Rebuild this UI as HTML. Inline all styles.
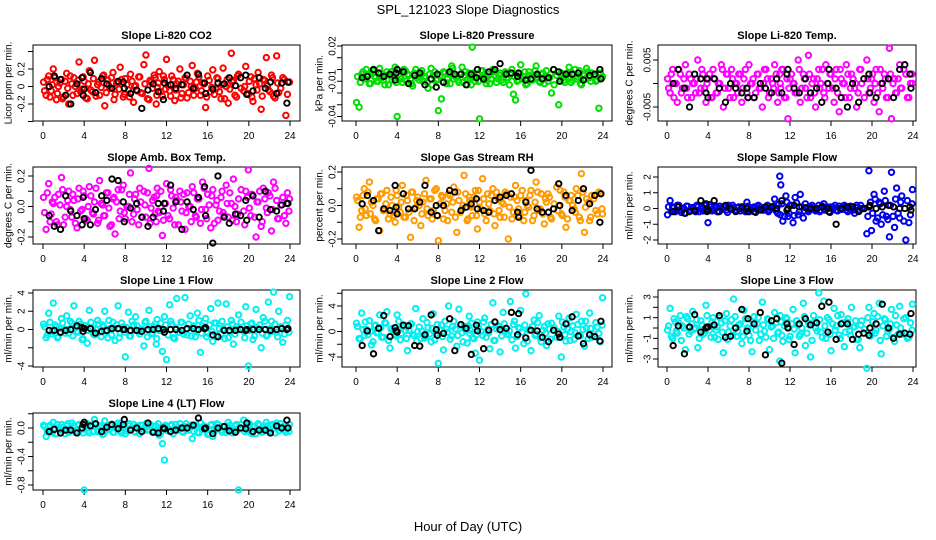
<!DOCTYPE html>
<html><head><meta charset="utf-8"><style>
html,body{margin:0;padding:0;background:#fff}
svg{display:block;font-family:"Liberation Sans",sans-serif}
</style></head><body>
<svg id="chart" width="936" height="540" viewBox="0 0 936 540">
<text x="468" y="14" text-anchor="middle" font-size="13">SPL_121023  Slope Diagnostics</text>
<text x="468" y="531" text-anchor="middle" font-size="13">Hour of Day (UTC)</text>
</svg>
<script>
const hours=[.05,.3,.55,.8,1.0,1.3,1.5,1.8,2.0,2.3,2.5,2.8,3.0,3.3,3.5,3.8,4.0,4.3,4.5,4.8,5.0,5.3,5.5,5.8,6.0,6.3,6.5,6.8,7.0,7.3,7.5,7.8,8.0,8.3,8.5,8.8,9.0,9.3,9.5,9.8,10.0,10.3,10.5,10.8,11.0,11.1,11.3,11.6,11.8,12.0,12.3,12.5,12.8,13.0,13.3,13.5,13.8,14.0,14.3,14.5,14.8,15.0,15.3,15.5,15.8,16.0,16.3,16.5,16.8,17.0,17.3,17.5,17.8,18.0,18.3,18.5,18.8,19.0,19.5,19.7,19.95,20.2,20.4,20.7,20.9,21.2,21.4,21.7,21.9,22.2,22.4,22.7,22.9,23.3,23.6,23.95];
const hours2=[.15,.42,.68,.9,1.15,1.4,1.65,1.9,2.15,2.4,2.65,2.9,3.15,3.4,3.65,3.9,4.15,4.4,4.65,4.9,5.15,5.4,5.65,5.9,6.15,6.4,6.65,6.9,7.15,7.4,7.65,7.9,8.15,8.4,8.65,8.9,9.15,9.4,9.65,9.9,10.15,10.4,10.65,10.9,11.05,11.2,11.45,11.7,11.9,12.15,12.4,12.65,12.9,13.15,13.4,13.65,13.9,14.15,14.4,14.65,14.9,15.15,15.4,15.65,15.9,16.15,16.4,16.65,16.9,17.15,17.4,17.65,17.9,18.15,18.4,18.65,18.9,19.25,19.6,19.85,20.05,20.3,20.55,20.8,21.05,21.3,21.55,21.8,22.05,22.3,22.55,22.8,23.1,23.45,23.75,23.9];
const blackHours=[0.6,1.1,1.7,2.2,2.7,3.3,3.8,3.9,4.0,4.6,5.1,5.7,6.2,6.7,7.3,7.8,7.9,8.5,9.1,9.6,10.2,10.7,11.2,11.7,11.8,12.4,12.9,13.5,14.0,14.6,15.1,15.7,15.8,16.5,17.0,17.6,18.1,18.7,19.2,19.7,19.8,20.4,21.0,21.6,22.1,22.7,23.2,23.7,23.8];
const xTicks=[0,4,8,12,16,20,24];

const co2=[.05,-.1,.12,-.05,.2,-.15,.0,.08,-.12,.15,-.2,.03,.1,-.08,.28,-.03,.06,-.14,.18,-.06,.3,.02,-.1,.12,-.22,.07,-.02,.16,-.09,.04,.22,-.12,.09,-.04,.14,-.18,.01,.11,-.07,.25,.36,-.15,.05,.13,-.2,-.01,.17,-.11,.08,.31,-.05,.12,-.16,.03,.2,-.08,.1,-.13,.06,.24,-.02,.15,-.1,.04,-.24,.12,-.06,.19,-.03,.09,-.14,.21,.0,-.19,.38,.07,-.12,.14,-.05,.23,-.09,.11,-.17,.02,.16,-.26,.08,.33,-.04,.13,-.11,.35,-.07,.1,-.33,.05];
const co2B=[-.05,.08,-.12,.02,.1,-.08,.04,-.14,.06,-.02,.12,-.1,.0,.07,-.06,.11,-.13,.03,-.04,.09,-.11,.05,-.01,.13,-.07,.01,.1,-.15,.04,-.03,.08,-.09,.02,-.12,.06,.0,-.05,.11,-.08,.03,-.14,.07,-.02,.1,-.1,.04,-.06,.12,-.03,.01,-.11,.08,-.04,.06,-.13,.02,.09,-.07,.0,-.1,.05,.11,-.05,.03,-.12,.07,-.01,-.09,.1,-.06,.02,-.14,.08,-.03,.05,-.1,.12,-.02,.0,-.08,.06,-.12,.09,-.04,.03,-.11,.07,.01,-.06,.1,-.13,.04,-.02,.08,-.09,.05];
const co2Black=[.0,.12,.08,-.1,-.2,.03,.1,-.1,-.03,.16,-.07,.09,.03,-.02,.06,.05,-.02,-.08,-.04,-.25,-.04,.03,-.06,-.15,.04,.02,-.02,.02,.13,-.02,.14,.04,-.08,-.03,.04,.03,.1,.01,.1,.13,-.09,-.05,.1,-.02,.05,-.08,.04,-.19,.05];
const pressure=[-.028,-.032,-.004,-.008,.0,-.012,-.003,-.006,-.01,.001,-.007,-.013,-.002,-.005,-.009,.002,-.04,-.006,-.011,-.001,-.004,-.008,-.014,.0,-.006,-.003,-.01,-.007,-.016,.001,-.005,-.009,-.035,-.025,-.002,-.012,-.004,.003,-.008,-.006,-.011,.002,-.005,-.013,-.003,-.007,.019,-.01,-.004,-.042,-.001,-.009,-.006,-.012,.0,-.005,-.008,-.003,-.011,-.002,-.007,-.004,-.021,-.026,-.009,.004,-.006,-.013,-.002,-.008,-.005,.003,-.01,-.004,-.012,-.001,-.007,-.02,-.005,-.03,-.003,-.009,-.006,.002,-.011,-.004,-.008,-.001,-.013,-.005,.001,-.007,-.003,-.01,-.033,-.006];
const pressureB=[-.006,-.011,-.002,-.008,-.004,-.012,-.001,-.007,-.01,-.003,-.009,-.005,-.013,-.002,-.006,-.011,-.004,-.008,.0,-.01,-.005,-.012,-.003,-.007,-.009,-.001,-.006,-.011,-.004,-.013,-.002,-.008,-.005,-.01,-.003,-.007,-.012,.001,-.006,-.009,-.004,-.011,-.002,-.008,-.005,-.013,-.003,-.007,-.01,-.001,-.006,-.012,-.004,-.008,-.002,-.011,-.005,-.009,-.003,-.007,-.013,.0,-.006,-.01,-.004,-.008,-.002,-.012,-.005,-.009,-.001,-.007,-.011,-.003,-.006,-.01,-.004,-.013,-.002,-.008,-.005,-.011,-.003,-.007,-.009,.0,-.006,-.012,-.004,-.008,-.002,-.01,-.005,-.009,-.003,-.007];
const pressureBlack=[-.007,-.006,.0,-.003,-.006,-.004,-.009,-.003,.0,-.002,-.012,-.005,-.003,-.013,-.008,-.015,-.004,-.011,-.002,-.004,-.004,-.013,-.004,-.007,.0,-.008,-.002,.0,.005,-.004,-.003,-.006,-.003,-.009,-.008,-.004,-.008,-.007,.0,-.002,-.01,-.004,-.004,-.003,-.009,-.005,-.004,.0,-.008];
const liTemp=[.001,-.002,.003,.0,-.004,.002,-.001,.004,-.003,.001,.0,-.002,.005,-.001,.002,-.004,.001,-.003,.003,-.002,.0,.004,-.005,.002,-.001,.003,-.003,.0,.002,-.004,.001,-.002,.004,.0,-.003,.002,-.001,-.005,.003,.001,-.002,.0,.004,-.004,.002,-.001,.003,-.003,-.0075,.001,.0,-.002,.005,-.004,.002,-.001,.006,-.003,.001,-.005,.003,.0,-.002,.004,-.001,.002,-.004,.003,-.006,.001,.0,.004,-.003,.002,-.001,-.005,.003,.0,.005,-.002,.001,-.004,.003,-.006,.0,.002,-.003,.0075,-.0075,.001,-.002,.004,-.001,.002,-.003,.0];
const liTempB=[-.001,.002,-.003,.0,.003,-.002,.001,-.001,.002,-.003,.0,.001,-.002,.003,-.001,.0,.002,-.003,.001,-.002,.0,.003,-.001,.002,-.003,.001,.0,-.002,.002,-.001,.003,-.003,.0,.001,-.002,.002,-.001,.0,.003,-.003,.001,-.001,.002,-.002,.0,.003,-.003,.001,-.001,.002,.0,-.002,.003,-.001,.001,-.003,.002,.0,-.002,.001,-.001,.003,-.003,.0,.002,-.001,.001,-.002,.003,.0,-.003,.002,-.001,.001,.0,-.002,.003,-.003,.001,-.001,.002,.0,-.002,.003,-.001,.001,-.003,.002,.0,-.002,.001,-.001,.003,-.003,.0,.002];
const liTempBlack=[.0,.003,-.001,-.005,.002,.001,-.002,.001,-.003,.001,-.001,-.004,.0,-.001,-.002,-.001,-.003,-.003,.0,-.001,-.002,.001,-.002,.002,.003,-.001,-.002,.001,-.002,-.001,-.004,.0,.003,-.001,-.003,-.005,.0,-.004,.001,.002,-.002,-.003,.0,.001,-.003,.003,.004,.002,-.001];
const ambTemp=[.06,-.15,.15,-.05,.02,-.1,.08,.19,-.12,.0,.1,-.07,.04,-.14,.12,-.02,.07,-.09,.13,-.04,.03,-.11,.17,.01,-.06,.09,-.13,.05,-.18,.11,-.03,.14,-.08,.0,.22,-.05,.08,-.12,.03,.1,-.07,.25,-.01,.06,-.1,.12,-.04,-.19,.02,.15,-.08,.07,-.12,.04,.1,-.03,-.15,.09,.0,.13,-.06,.05,-.11,.16,-.02,.08,-.14,.11,.01,-.09,.06,-.04,.14,-.07,.02,.18,-.1,.05,-.03,.1,.24,-.06,.07,-.2,.03,-.13,.12,-.01,.09,-.16,.16,.04,-.08,.06,-.11,.05];
const ambTempB=[-.04,.09,-.1,.03,.06,-.12,.01,.11,-.07,.04,-.02,.08,-.11,.05,-.03,.1,-.08,.0,.07,-.05,.12,-.09,.02,-.06,.09,-.01,-.12,.06,.03,-.08,.11,-.04,.0,.08,-.1,.05,-.02,.12,-.07,.01,.09,-.11,.04,-.05,.07,-.03,.1,-.09,.02,-.06,.11,-.01,.06,-.12,.03,.08,-.04,.0,-.1,.09,-.07,.05,-.02,.12,-.08,.01,.07,-.11,.04,-.03,.1,-.06,.02,.09,-.09,.0,-.05,.11,-.12,.06,-.01,.08,-.07,.03,.1,-.1,.05,-.04,.07,-.02,.12,-.08,.01,-.06,.09,-.03];
const ambTempBlack=[-.06,-.13,-.15,.07,-.03,-.06,-.12,.06,-.08,-.12,-.02,.07,.04,.18,.17,.03,-.1,-.01,.02,-.07,-.13,-.07,.02,-.03,.02,.14,.03,-.15,.03,-.02,.06,.13,-.06,-.24,.2,-.07,-.11,-.05,-.06,.04,-.09,.07,-.07,.1,-.02,-.03,.01,.02,.02];
const rh=[.05,-.13,-.03,.1,-.06,.14,.02,-.08,.04,-.15,.07,-.02,.09,-.05,.0,-.1,.06,-.04,.12,-.07,.03,-.19,.08,-.01,.05,-.12,.02,.15,-.06,.04,-.03,.1,-.21,.06,-.08,.01,.07,-.04,.11,-.16,.03,-.02,.18,-.09,.05,.0,-.06,.09,-.14,.02,.16,-.05,.07,-.03,.1,-.12,.04,-.07,.01,.08,-.2,.05,-.04,.12,-.02,.06,-.09,.03,-.01,.09,-.06,.14,-.03,.07,-.11,.02,.05,-.08,.11,.0,-.05,.08,-.13,.03,.06,-.02,.1,-.07,.19,-.16,.04,-.09,.06,-.03,.08,-.05];
const rhB=[.03,-.07,.06,-.02,.08,-.05,.0,-.09,.04,.07,-.03,.01,-.08,.05,-.06,.09,-.01,.02,-.07,.06,-.04,.08,-.09,.03,.0,-.05,.07,-.02,.04,-.08,.09,-.06,.01,.05,-.03,-.09,.06,.02,-.07,.08,-.04,.0,.07,-.08,.03,-.01,.05,-.06,.09,-.02,.04,-.09,.01,.06,-.05,.08,-.03,.02,-.07,.07,-.01,-.08,.05,.03,-.06,.09,-.04,.0,.06,-.09,.02,.08,-.02,-.05,.04,.07,-.07,.01,-.03,.09,-.06,.05,-.08,.03,.0,-.04,.06,-.09,.08,-.01,.02,-.07,.04,-.05,.07,-.02];
const rhBlack=[.01,.06,.03,-.15,-.02,-.03,.12,-.01,-.05,.07,-.02,-.02,.02,.12,-.04,.0,-.06,.0,.09,.08,-.03,-.01,.01,.04,-.02,-.03,-.04,.03,.05,.06,.07,-.04,-.07,.02,.21,-.02,-.04,-.04,-.02,.13,.0,.06,-.03,.03,.1,.01,.06,-.1,.07];
const sampleFlow=[-.4,.5,.1,-.2,.2,-.1,.0,-.3,.15,-.1,.05,-.2,.1,.0,-.15,.2,-.9,.1,-.05,.15,-.2,.0,.1,-.1,.2,-.05,.05,-.15,.1,.0,-.1,.4,-.2,.05,.1,-.05,.15,-.1,.0,.2,-.1,.05,.6,-.3,2.05,1.5,-.8,.8,-.5,.2,-.9,.7,-.4,.9,-.6,.3,-.2,.1,.0,-.15,.2,-.1,.3,.0,-.2,.1,.05,-.1,.15,-.05,.2,-.1,.0,.1,-.3,.2,-.1,.0,-1.6,2.4,-1.4,.9,-.8,.4,-1.0,1.1,-.5,-1.8,2.3,-1.2,1.3,-.6,.8,-2.0,-.9,1.2];
const sampleFlowB=[.1,-.2,.05,-.1,.2,-.25,.0,.15,-.15,.05,-.05,.2,-.2,.1,-.1,.0,.25,-.15,.05,-.2,.15,-.05,.1,-.25,.0,.2,-.1,.05,-.15,.1,-.2,.15,-.05,.0,-.25,.2,.05,-.1,.1,-.2,.0,.15,-.15,.25,-.4,.3,-.5,.4,-.3,.2,-.45,.35,-.2,.1,-.15,.05,-.1,.2,-.05,.0,-.2,.15,-.1,.1,-.25,.05,.2,-.15,.0,-.05,.1,-.2,.15,-.1,.05,-.15,.2,.0,-.5,.4,-.3,.6,-.6,.3,-.4,.5,-.7,.2,-.5,.6,-.3,.4,-.8,.5,-.4,.3];
const sampleFlowBlack=[-.2,.1,-.3,-.2,-.15,.5,.3,-.2,-.1,.5,-.2,.2,.0,-.2,.1,.0,-.2,-.2,-.1,.1,.1,.0,.5,-.1,.0,.2,.1,.05,.0,.0,.1,.0,-.2,-1.0,.0,.1,.1,-.2,.0,.1,.2,.0,.1,.2,.1,.0,.0,.1,-.1];
const line1=[.6,-.9,1.8,-.5,2.9,.3,-.8,1.2,.0,1.5,-.4,.7,2.6,-.2,.9,-1.1,.4,-1.5,2.1,.2,-.6,1.0,-.3,.5,2.0,-.9,.1,.8,-1.2,2.6,-.4,.3,-3.0,1.9,-.7,.5,1.4,-.2,.0,-1.8,.9,2.1,-.5,.3,-1.6,1.1,-.1,-2.4,1.4,-3.3,2.7,.6,-1.0,3.4,-.3,.8,3.5,-.6,1.5,.2,-.8,1.8,-2.5,.4,1.2,-.4,2.3,-1.3,.7,2.9,-.5,.1,2.8,-.9,1.0,-1.6,.3,1.6,-.2,2.5,-4.0,.6,-1.1,2.2,.0,-2.0,1.3,-.7,3.0,.9,4.1,-.3,2.0,-1.4,.5,3.6];
const line1B=[.3,-.6,.8,-.2,.5,-.9,.1,.7,-.4,.0,.9,-.7,.2,-.3,.6,-1.0,.4,-.1,.8,-.5,.0,.6,-.8,.3,-.2,1.0,-.6,.1,.5,-.9,.7,-.3,.2,-.7,.9,-.1,.4,-.5,.0,.8,-.8,.3,-.4,.6,-1.0,.1,.7,-.2,.5,-.6,.9,-.9,.2,-.3,.8,-.5,.0,.6,-.7,.4,-.1,1.0,-.4,.2,-.8,.5,-.2,.7,-.6,.1,.9,-1.0,.3,-.3,.6,-.5,.0,.8,-.9,.4,-.1,.7,-.7,.2,.5,-.4,.9,-.6,.1,-.2,.6,-.8,.3,-.5,1.0,-.3];
const line1Black=[-.1,-.1,-.3,-.1,.0,.4,.2,-.2,.1,.1,-.4,-.2,-.1,.1,.1,.0,.0,-.1,-.1,-.2,.0,.0,.1,.0,-.3,.0,.0,-.1,.1,.1,.0,.1,.2,-.6,-.8,-.1,-.1,-.1,.0,-.1,.0,.0,.0,.0,-.1,.0,.1,.0,.1];
const line2=[1.3,-1.1,2.9,-.6,.3,1.7,-2.1,.9,-.2,2.6,-.9,1.4,3.1,-2.6,.5,-.4,2.6,-1.3,.7,.1,-3.0,1.2,-.5,3.6,.0,-1.1,2.0,-.8,.6,-1.6,2.8,-.3,-5.0,1.0,-2.9,.4,4.0,-.7,1.6,-2.3,3.5,-.2,.8,-1.8,2.4,.2,-1.0,-3.4,1.5,-4.5,-.6,2.1,.3,-2.7,4.5,-1.4,.9,-3.2,3.0,.0,-.5,4.7,1.1,-2.6,.6,3.3,-1.9,5.9,.2,-3.0,1.8,-.4,2.5,-1.6,.8,-2.2,.4,1.3,-.9,2.4,-4.0,.7,-1.5,2.1,.0,-1.2,2.7,-.6,1.6,-2.3,.5,2.9,-.9,1.4,-.3,5.3];
const line2B=[.8,-1.2,.3,1.5,-.5,.0,-1.6,1.0,-.2,.6,-.9,1.3,-1.4,.4,.1,-.7,1.6,-.3,.9,-1.1,.2,1.2,-.6,-1.5,.7,.0,-1.0,1.4,-.4,.5,-1.3,1.1,.3,-.8,1.6,-.1,-1.2,.8,.4,-.6,1.0,-1.6,.2,.9,-.3,1.3,-1.1,-.5,.6,.0,1.5,-.9,-.2,1.1,-1.4,.4,.7,-.7,1.2,-.4,.1,-1.3,1.6,-.8,.5,-.1,1.0,-1.5,.3,.8,-.6,1.4,-1.0,.2,-.3,1.2,-1.2,.6,.0,-.9,1.5,-.5,.4,-1.4,.9,-.2,1.1,-.7,.3,1.6,-1.1,.5,-.4,.7,-1.6,1.0];
const line2Black=[-2.2,.1,-3.5,.5,2.5,-.8,.6,.1,-.1,1.0,.9,-2.2,-2.3,-.5,2.6,.3,-.6,-.3,2.0,-3.0,1.1,.5,-3.6,1.0,.1,-2.7,.2,1.5,.3,.5,3.0,-.5,2.8,-1.0,.2,.1,-.9,-1.6,.2,-.4,-.9,1.2,2.3,-.7,-1.9,-.5,-.8,-1.5,1.6];
const line3=[-.2,1.9,-1.0,.6,-.5,1.2,.2,-2.1,.9,-.3,1.6,.0,-1.9,.7,-.6,2.2,.1,-.9,1.0,-.2,-1.1,.5,-2.4,1.4,-.4,.8,2.8,-.8,.3,-1.5,1.7,.0,-.7,-2.3,1.1,.4,-1.2,2.5,-.3,.9,-2.1,.2,1.5,-.5,-3.2,.6,-1.3,1.0,.1,-.8,1.8,-2.4,.3,-.6,2.4,-1.7,.5,-2.8,1.2,.0,3.4,-.4,2.6,-1.0,.8,-2.2,1.9,.2,-.7,1.3,-1.8,.6,-.3,2.0,.1,-1.1,-1.9,.7,-3.9,2.0,-.5,1.4,-.2,2.4,-2.5,.9,-.8,-.1,1.8,-1.3,.3,2.1,-.6,1.0,-.9,2.3];
const line3B=[.2,-.8,.9,-.3,.5,-1.2,.0,1.1,-.6,.4,-.1,.8,-1.0,.3,-.5,1.2,-.2,.6,-.9,.1,1.0,-.4,.7,-1.1,.2,-.7,1.1,-.3,.4,-.8,.9,.0,-1.2,.6,-.2,1.0,-.6,.3,-.9,.8,.1,-1.0,.5,-.4,1.2,-.7,.2,.9,-1.1,.4,-.1,.7,-.8,.0,1.1,-.5,.3,-1.2,.6,-.3,.8,-.9,.2,1.0,-.6,.4,-.2,1.2,-1.0,.5,-.4,.9,-.7,.1,.7,-1.1,.3,-.1,1.0,-.8,.6,-.5,1.1,-1.2,.2,.8,-.3,.4,-.9,1.2,-.6,.0,.9,-1.0,.5,-.2];
const line3Black=[-1.7,.2,-2.5,.1,1.3,-.4,.0,.1,.1,.3,1.2,-.9,-.8,.0,1.8,-.3,.9,.4,1.5,-2.6,.7,.9,-3.4,.4,.0,-1.6,.4,.9,.3,.5,2.1,-.4,2.5,-1.1,.4,.4,-1.1,-.6,-.5,-.7,.0,.4,2.3,.0,-1.0,-.6,-.5,-.6,1.4];
const line4=[.04,-.12,.02,-.05,.08,-.08,.0,.05,-.03,.03,-.06,.07,.01,-.04,.05,-.02,-.87,.06,-.07,.02,.12,-.05,.03,-.09,.1,-.02,.04,-.06,.01,.07,-.04,.02,-.08,.03,-.01,.05,-.06,.0,.04,-.03,.06,-.02,.01,-.05,.03,-.07,-.1,-.22,-.45,.02,-.04,.05,.0,-.03,.06,-.05,.02,-.01,.04,-.15,.03,-.06,.07,-.02,.01,-.09,.04,-.12,.0,.05,-.03,.02,-.06,.08,-.01,-.04,.05,-.87,.11,-.02,.04,-.07,.02,-.08,.06,-.03,.01,.08,-.05,.03,.0,.07,-.04,.02,-.06,.05];
const line4B=[.02,-.05,.04,-.07,.0,.05,-.03,.01,-.08,.06,-.02,.03,-.06,.04,-.01,-.07,.05,-.04,.02,-.05,.06,-.03,.0,-.08,.03,-.02,.05,-.06,.01,.04,-.07,.02,-.04,.06,-.01,-.05,.03,-.08,.04,.0,-.03,.05,-.06,.02,-.02,.06,-.07,.01,.04,-.04,.03,-.08,.05,-.01,.0,-.06,.06,-.03,.02,-.05,.04,-.07,.01,.03,-.02,-.08,.05,-.04,.06,.0,-.06,.02,-.01,.04,-.07,.03,-.03,.05,-.05,.01,.06,-.08,.02,-.02,.04,-.06,.0,.03,-.04,.05,-.07,.01,.06,-.03,.02,-.05];
const line4Black=[-.05,-.02,-.07,-.03,-.03,-.07,.0,.05,.08,.03,.06,-.05,.01,.05,-.01,.05,.12,-.03,.0,-.05,.07,-.06,-.07,.0,-.01,-.05,-.03,.0,.0,.04,.14,-.01,.0,-.08,.0,.02,-.04,-.06,.0,-.01,.07,-.05,-.03,-.03,-.07,.03,.0,.11,.0];

const co2Ticks=[-0.4,-0.2,0,0.2,0.4], co2Labels=["","-0.2","0","0.2",""];
const pressureTicks=[0.02,0.01,0,-0.01,-0.02,-0.03,-0.04], pressureLabels=["0.02","","","-0.01","","","-0.04"];
const liTempTicks=[0.005,0,-0.005], liTempLabels=["0.005","","-0.005"];
const ambTempTicks=[0.2,0.1,0,-0.1,-0.2], ambTempLabels=["0.2","","0.0","","-0.2"];
const rhTicks=[0.2,0.1,0,-0.1,-0.2], rhLabels=["0.2","","0.0","","-0.2"];
const sampleTicks=[2,1,0,-1,-2], sampleLabels=["2","1","0","-1","-2"];
const line1Ticks=[4,2,0,-2,-4], line1Labels=["4","2","0","","-4"];
const line2Ticks=[6,4,2,0,-2,-4,-6], line2Labels=["","4","","0","","-4",""];
const line3Ticks=[3,2,1,0,-1,-2,-3], line3Labels=["3","","1","","-1","","-3"];
const line4Ticks=[0.2,0,-0.2,-0.4,-0.6,-0.8], line4Labels=["","0.0","","-0.4","","-0.8"];

const NS="http://www.w3.org/2000/svg";
const svg=document.getElementById('chart');
function mk(tag,attrs,parent){const e=document.createElementNS(NS,tag);for(const k in attrs)e.setAttribute(k,attrs[k]);parent.appendChild(e);return e;}
const cols=[{l:33,r:300,x0:43,x24:290,tl:22,yt:9},{l:342,r:612,x0:356,x24:603,tl:333,yt:320},{l:658,r:916,x0:667,x24:913,tl:648,yt:630}];
const rows=[{t:45,b:121},{t:167,b:244},{t:290,b:367},{t:413,b:490}];
const panels=[
 {name:"co2",title:"Slope Li-820 CO2",yl:"Licor ppm per min.",c:0,r:0,v:co2,v2:co2B,bv:co2Black,ticks:co2Ticks,labels:co2Labels,a:0,pa:86.5,b:0.2,pb:69,col:"#ff0000"},
 {name:"pressure",title:"Slope Li-820 Pressure",yl:"kPa per min.",c:1,r:0,v:pressure,v2:pressureB,bv:pressureBlack,ticks:pressureTicks,labels:pressureLabels,a:0.02,pa:46,b:-0.04,pb:116.5,col:"#00e000"},
 {name:"li820-temp",title:"Slope Li-820 Temp.",yl:"degrees C per min.",c:2,r:0,v:liTemp,v2:liTempB,bv:liTempBlack,ticks:liTempTicks,labels:liTempLabels,a:0.005,pa:60,b:-0.005,pb:107,col:"#ff00ff"},
 {name:"amb-box-temp",title:"Slope Amb. Box Temp.",yl:"degrees C per min.",c:0,r:1,v:ambTemp,v2:ambTempB,bv:ambTempBlack,ticks:ambTempTicks,labels:ambTempLabels,a:0.2,pa:176,b:-0.2,pb:237,col:"#ff00ff"},
 {name:"gas-stream-rh",title:"Slope Gas Stream RH",yl:"percent per min.",c:1,r:1,v:rh,v2:rhB,bv:rhBlack,ticks:rhTicks,labels:rhLabels,a:0.2,pa:172,b:-0.2,pb:239,col:"#ff9a00"},
 {name:"sample-flow",title:"Slope Sample Flow",yl:"ml/min per min.",c:2,r:1,v:sampleFlow,v2:sampleFlowB,bv:sampleFlowBlack,ticks:sampleTicks,labels:sampleLabels,a:2,pa:177,b:-2,pb:240,col:"#0000ee"},
 {name:"line1-flow",title:"Slope Line 1 Flow",yl:"ml/min per min.",c:0,r:2,v:line1,v2:line1B,bv:line1Black,ticks:line1Ticks,labels:line1Labels,a:4,pa:293,b:-4,pb:366,col:"#00f0f0"},
 {name:"line2-flow",title:"Slope Line 2 Flow",yl:"ml/min per min.",c:1,r:2,v:line2,v2:line2B,bv:line2Black,ticks:line2Ticks,labels:line2Labels,a:4,pa:306,b:-4,pb:357,col:"#00f0f0"},
 {name:"line3-flow",title:"Slope Line 3 Flow",yl:"ml/min per min.",c:2,r:2,v:line3,v2:line3B,bv:line3Black,ticks:line3Ticks,labels:line3Labels,a:3,pa:297,b:-3,pb:359,col:"#00f0f0"},
 {name:"line4-flow",title:"Slope Line 4 (LT) Flow",yl:"ml/min per min.",c:0,r:3,v:line4,v2:line4B,bv:line4Black,ticks:line4Ticks,labels:line4Labels,a:0,pa:428,b:-0.8,pb:485,col:"#00f0f0"}
];
panels.forEach(p=>{
 const C=cols[p.c],R=rows[p.r];
 const xs=h=>C.x0+(C.x24-C.x0)*h/24;
 const ys=v=>p.pa+(p.pb-p.pa)*(v-p.a)/(p.b-p.a);
 const g=mk('g',{},svg);
 
 
 const t=mk('text',{x:(C.l+C.r)/2,y:R.t-6,'text-anchor':'middle','font-size':11,'font-weight':'bold'},g);t.textContent=p.title;
 
 
 const yt=mk('text',{x:C.yt,y:(R.t+R.b)/2,'text-anchor':'middle','font-size':10,transform:`rotate(-90 ${C.yt} ${(R.t+R.b)/2})`,'dominant-baseline':'central'},g);yt.textContent=p.yl;
 
 
 const box=mk('rect',{x:C.l,y:R.t,width:C.r-C.l,height:R.b-R.t,fill:'none',stroke:'#000','stroke-width':1},g);
 
 
 const ya=mk('g',{},g);
 
 
 const tv=p.ticks.filter(v=>{const y=ys(v);return y>=R.t-1&&y<=R.b+1;});
 mk('line',{x1:C.l,x2:C.l,y1:ys(Math.max(...tv)),y2:ys(Math.min(...tv)),stroke:'#000'},ya);
 p.ticks.forEach((v,i)=>{const y=ys(v);if(y<R.t-1||y>R.b+1)return;
  mk('line',{x1:C.l-5,x2:C.l,y1:y,y2:y,stroke:'#000'},ya);
  if(p.labels[i]){const tx=mk('text',{x:C.tl,y:y,'text-anchor':'middle','font-size':10,transform:`rotate(-90 ${C.tl} ${y})`,'dominant-baseline':'central'},ya);tx.textContent=p.labels[i];}
 });
 const xa=mk('g',{},g);
 
 
 mk('line',{x1:xs(0),x2:xs(24),y1:R.b,y2:R.b,stroke:'#000'},xa);
 xTicks.forEach(h=>{mk('line',{x1:xs(h),x2:xs(h),y1:R.b,y2:R.b+5,stroke:'#000'},xa);
  const tx=mk('text',{x:xs(h),y:R.b+18,'text-anchor':'middle','font-size':10},xa);tx.textContent=h;});
 const pts=mk('g',{fill:'none',stroke:p.col,'stroke-width':2},g);
 
 
 p.v2.forEach((v,i)=>{const c=mk('circle',{cx:xs(hours2[i]),cy:ys(v),r:2.7},pts);
  
  });
 p.v.forEach((v,i)=>{const c=mk('circle',{cx:xs(hours[i]),cy:ys(v),r:2.7},pts);
  
  });
 const bp=mk('g',{fill:'none',stroke:'#000','stroke-width':1.9},g);
 
 
 p.bv.forEach((v,i)=>{const c=mk('circle',{cx:xs(blackHours[i]),cy:ys(v),r:2.7},bp);
  
  });
});
</script>
</body></html>
